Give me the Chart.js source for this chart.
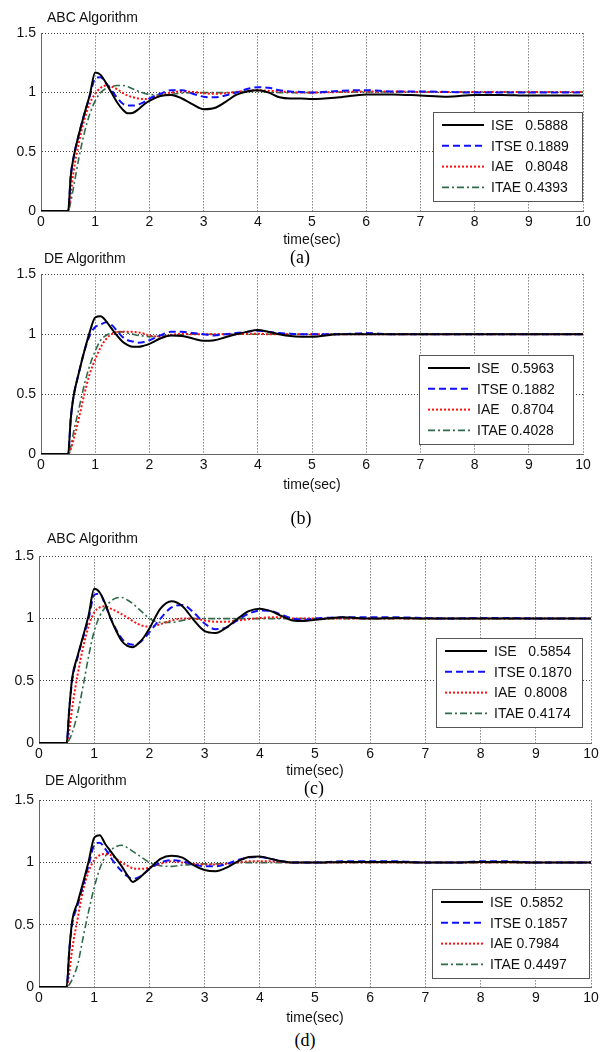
<!DOCTYPE html>
<html>
<head>
<meta charset="utf-8">
<script src="https://cdn.jsdelivr.net/npm/chart.js@4.4.1/dist/chart.umd.min.js"></script>
<style>
  body { margin: 0; background: #fff; }
  #page { position: relative; width: 606px; height: 1052px; overflow: hidden; background: #fff; }
  .panel { position: absolute; left: 0; width: 606px; }
  .ttl { position: absolute; font: 14px "Liberation Sans", Arial, sans-serif; color: #111; line-height: 14px; white-space: nowrap; }
  .cap { position: absolute; font: 18px "Liberation Serif", "Times New Roman", serif; color: #000; line-height: 18px; transform: translateX(-50%); white-space: nowrap; }
</style>
</head>
<body>
<div id="page">
  <div class="panel" id="pa"><canvas id="cva"></canvas></div>
  <div class="panel" id="pb"><canvas id="cvb"></canvas></div>
  <div class="panel" id="pc"><canvas id="cvc"></canvas></div>
  <div class="panel" id="pd"><canvas id="cvd"></canvas></div>

  <div class="ttl" style="left:47px; top:10px;">ABC Algorithm</div>
  <div class="ttl" style="left:44px; top:251px;">DE Algorithm</div>
  <div class="ttl" style="left:47px; top:531px;">ABC Algorithm</div>
  <div class="ttl" style="left:45px; top:773px;">DE Algorithm</div>

  <div class="cap" style="left:300px; top:248px;">(a)</div>
  <div class="cap" style="left:301px; top:509px;">(b)</div>
  <div class="cap" style="left:314px; top:779px;">(c)</div>
  <div class="cap" style="left:305px; top:1031px;">(d)</div>
</div>
<script>
// shared time grid (sec)
const timeSec = [0, 0.5, 0.55, 0.6, 0.7, 0.8, 0.9, 1.0, 1.1, 1.2, 1.3, 1.4, 1.5, 1.6, 1.7, 1.8, 1.9, 2.0,
  2.2, 2.4, 2.6, 2.8, 3.0, 3.2, 3.4, 3.6, 3.8, 4.0, 4.2, 4.4, 4.6, 4.8, 5.0,
  5.5, 6.0, 6.5, 7.0, 7.5, 8.0, 8.5, 9.0, 9.5, 10];

const xTicks = [0, 1, 2, 3, 4, 5, 6, 7, 8, 9, 10];
const yTicks = [0, 0.5, 1, 1.5];

// (a) ABC
const iseA = [0, 0, 0.3, 0.45, 0.65, 0.82, 0.98, 1.17, 1.15, 1.08, 1.0, 0.92, 0.86, 0.825, 0.83, 0.86, 0.9, 0.93,
  0.97, 0.98, 0.95, 0.9, 0.86, 0.87, 0.92, 0.98, 1.01, 1.02, 1.0, 0.96, 0.95, 0.95, 0.945,
  0.96, 0.985, 0.985, 0.975, 0.965, 0.98, 0.98, 0.975, 0.975, 0.975];
const itseA = [0, 0, 0.3, 0.45, 0.65, 0.82, 0.97, 1.12, 1.13, 1.08, 1.02, 0.96, 0.91, 0.89, 0.89, 0.9, 0.92, 0.95,
  0.99, 1.02, 1.02, 0.99, 0.965, 0.96, 0.975, 1.0, 1.03, 1.045, 1.04, 1.02, 1.01, 1.005, 1.0,
  1.015, 1.02, 1.01, 1.01, 1.005, 1.0, 1.0, 1.0, 1.0, 1.0];
const iaeA = [0, 0, 0.15, 0.33, 0.58, 0.77, 0.91, 0.99, 1.04, 1.06, 1.05, 1.03, 1.0, 0.975, 0.96, 0.95, 0.945, 0.95,
  0.975, 1.0, 1.01, 1.005, 0.995, 0.99, 0.995, 1.005, 1.015, 1.02, 1.015, 1.01, 1.005, 1.0, 1.0,
  1.005, 1.01, 1.01, 1.005, 1.005, 1.005, 1.005, 1.005, 1.005, 1.005];
const itaeA = [0, 0, 0.08, 0.2, 0.45, 0.66, 0.82, 0.93, 1.0, 1.035, 1.05, 1.06, 1.06, 1.05, 1.03, 1.01, 0.995, 0.985,
  0.98, 0.985, 0.995, 1.0, 1.0, 1.0, 1.0, 1.005, 1.01, 1.01, 1.005, 1.0, 1.0, 1.0, 1.0,
  1.005, 1.005, 1.005, 1.005, 1.005, 1.005, 1.005, 1.005, 1.005, 1.005];
const legendA = ['ISE   0.5888', 'ITSE 0.1889', 'IAE   0.8048', 'ITAE 0.4393'];

// (b) DE
const iseB = [0, 0, 0.3, 0.48, 0.68, 0.86, 1.02, 1.14, 1.15, 1.11, 1.05, 0.99, 0.94, 0.91, 0.895, 0.895, 0.905, 0.92,
  0.965, 0.99, 0.985, 0.965, 0.945, 0.95, 0.975, 1.0, 1.02, 1.035, 1.02, 1.0, 0.985, 0.98, 0.98,
  1.0, 1.0, 1.0, 1.0, 1.0, 1.0, 1.0, 1.0, 1.0, 1.0];
const itseB = [0, 0, 0.3, 0.48, 0.68, 0.86, 0.99, 1.06, 1.08, 1.1, 1.08, 1.03, 0.98, 0.95, 0.94, 0.93, 0.935, 0.95,
  0.99, 1.02, 1.02, 1.01, 1.0, 0.99, 1.0, 1.01, 1.02, 1.03, 1.02, 1.01, 1.005, 1.0, 1.0,
  1.0, 1.01, 1.0, 1.0, 1.0, 1.0, 1.0, 1.0, 1.0, 1.0];
const iaeB = [0, 0, 0.04, 0.12, 0.3, 0.5, 0.67, 0.79, 0.89, 0.96, 1.0, 1.02, 1.02, 1.02, 1.02, 1.015, 1.005, 0.99,
  0.98, 0.995, 1.005, 1.0, 1.0, 1.0, 1.0, 1.0, 1.005, 1.005, 1.0, 1.0, 1.0, 1.0, 1.0,
  1.0, 1.0, 1.0, 1.0, 1.0, 1.0, 1.0, 1.0, 1.0, 1.0];
const itaeB = [0, 0, 0.06, 0.18, 0.38, 0.58, 0.74, 0.86, 0.95, 0.99, 1.01, 1.02, 1.02, 1.01, 1.0, 0.99, 0.985, 0.98,
  0.985, 0.99, 0.995, 1.0, 1.0, 1.0, 1.0, 1.0, 1.0, 1.0, 1.0, 1.0, 1.0, 1.0, 1.0,
  1.0, 1.0, 1.0, 1.0, 1.0, 1.0, 1.0, 1.0, 1.0, 1.0];
const legendB = ['ISE   0.5963', 'ITSE 0.1882', 'IAE   0.8704', 'ITAE 0.4028'];

// (c) ABC
const iseC = [0, 0, 0.28, 0.52, 0.7, 0.86, 1.03, 1.24, 1.21, 1.12, 1.0, 0.9, 0.82, 0.78, 0.77, 0.8, 0.85, 0.92,
  1.08, 1.14, 1.1, 0.99, 0.9, 0.885, 0.93, 1.0, 1.06, 1.08, 1.06, 1.02, 0.985, 0.98, 0.99,
  1.01, 1.0, 1.005, 1.0, 1.0, 1.0, 1.0, 1.0, 1.0, 1.0];
const itseC = [0, 0, 0.28, 0.5, 0.69, 0.85, 1.0, 1.19, 1.2, 1.11, 1.0, 0.91, 0.84, 0.8, 0.79, 0.8, 0.84, 0.89,
  1.0, 1.09, 1.11, 1.05, 0.96, 0.915, 0.93, 0.99, 1.04, 1.065, 1.06, 1.03, 1.0, 0.99, 1.0,
  1.01, 1.01, 1.01, 1.005, 1.0, 1.005, 1.005, 1.0, 1.0, 1.0];
const iaeC = [0, 0, 0.1, 0.28, 0.55, 0.77, 0.94, 1.05, 1.09, 1.1, 1.08, 1.06, 1.035, 1.01, 0.98, 0.955, 0.94, 0.935,
  0.955, 0.985, 1.0, 1.0, 0.985, 0.975, 0.975, 0.985, 0.995, 1.005, 1.01, 1.01, 1.0, 1.0, 1.0,
  1.0, 1.0, 1.0, 1.0, 1.0, 1.0, 1.0, 1.0, 1.0, 1.0];
const itaeC = [0, 0, 0.03, 0.08, 0.24, 0.46, 0.7, 0.9, 1.02, 1.09, 1.14, 1.165, 1.17, 1.15, 1.12, 1.08, 1.04, 1.0,
  0.97, 0.97, 0.985, 1.0, 1.0, 1.0, 1.0, 1.0, 1.0, 1.0, 1.0, 1.0, 1.0, 1.0, 1.0,
  1.0, 1.0, 1.0, 1.0, 1.0, 1.0, 1.0, 1.0, 1.0, 1.0];
const legendC = ['ISE   0.5854', 'ITSE 0.1870', 'IAE  0.8008', 'ITAE 0.4174'];

// (d) DE
const iseD = [0, 0, 0.3, 0.53, 0.68, 0.84, 1.01, 1.2, 1.22, 1.15, 1.09, 1.03, 0.97, 0.9, 0.845, 0.87, 0.91, 0.95,
  1.03, 1.055, 1.04, 0.98, 0.94, 0.93, 0.96, 1.01, 1.045, 1.05, 1.03, 1.01, 1.0, 1.0, 1.0,
  1.005, 1.005, 1.005, 1.0, 1.0, 1.005, 1.005, 1.0, 1.0, 1.0];
const itseD = [0, 0, 0.3, 0.5, 0.66, 0.82, 0.98, 1.14, 1.16, 1.11, 1.04, 0.98, 0.93, 0.89, 0.87, 0.88, 0.91, 0.95,
  1.0, 1.02, 1.01, 0.985, 0.97, 0.97, 0.99, 1.02, 1.04, 1.045, 1.03, 1.01, 1.0, 1.0, 1.0,
  1.01, 1.01, 1.01, 1.0, 1.0, 1.01, 1.01, 1.0, 1.0, 1.0];
const iaeD = [0, 0, 0.12, 0.3, 0.55, 0.78, 0.93, 1.02, 1.06, 1.07, 1.06, 1.03, 1.0, 0.975, 0.955, 0.95, 0.95, 0.96,
  0.99, 1.01, 1.0, 0.99, 0.985, 0.985, 0.99, 1.0, 1.01, 1.01, 1.01, 1.005, 1.0, 1.0, 1.0,
  1.0, 1.0, 1.0, 1.0, 1.0, 1.0, 1.0, 1.0, 1.0, 1.0];
const itaeD = [0, 0, 0.02, 0.06, 0.18, 0.4, 0.61, 0.8, 0.95, 1.05, 1.1, 1.13, 1.14, 1.12, 1.09, 1.06, 1.03, 1.0,
  0.975, 0.97, 0.98, 0.985, 0.99, 0.99, 0.995, 1.0, 1.0, 1.0, 1.0, 1.0, 1.0, 1.0, 1.0,
  1.0, 1.0, 1.0, 1.0, 1.0, 1.0, 1.0, 1.0, 1.0, 1.0];
const legendD = ['ISE  0.5852', 'ITSE 0.1857', 'IAE 0.7984', 'ITAE 0.4497'];

// line styles, same order as the legend rows
const styles = [
  { color: '#000000', width: 2, dash: [] },
  { color: '#1010ff', width: 2, dash: [7, 4] },
  { color: '#ff1010', width: 2, dash: [2, 2] },
  { color: '#2f6b4b', width: 1.6, dash: [7, 3, 2, 3] },
];

const font = { family: '"Liberation Sans", Arial, sans-serif', size: 14 };

// legend box drawn inside the plot area, like MATLAB's 'Location','SouthEast'
const boxLegend = {
  id: 'boxLegend',
  afterDatasetsDraw(chart, args, opts) {
    const { ctx, chartArea } = chart;
    const w = opts.width, h = 89;
    const x = Math.round(chartArea.right - opts.right - w);
    const y = Math.round(chartArea.bottom - opts.bottom - h);
    ctx.save();
    ctx.fillStyle = '#fff';
    ctx.fillRect(x, y, w, h);
    ctx.strokeStyle = '#555';
    ctx.lineWidth = 1;
    ctx.strokeRect(x + 0.5, y + 0.5, w, h);
    ctx.font = '14px "Liberation Sans", Arial, sans-serif';
    ctx.textBaseline = 'middle';
    chart.data.datasets.forEach((ds, i) => {
      const ry = y + 13 + i * 20.8;
      ctx.beginPath();
      ctx.setLineDash(ds.borderDash || []);
      ctx.strokeStyle = ds.borderColor;
      ctx.lineWidth = ds.borderWidth;
      ctx.moveTo(x + 9, ry);
      ctx.lineTo(x + 51, ry);
      ctx.stroke();
      ctx.setLineDash([]);
      ctx.fillStyle = '#111';
      ctx.fillText(ds.label, x + 58, ry + 1);
    });
    ctx.restore();
  }
};

function makePanel(p, series, labels) {
  const wrap = document.getElementById('p' + p.id);
  const cv = document.getElementById('cv' + p.id);
  const xh = p.timeY - p.B + 8;
  const h = 12 + (p.B - p.T) + xh;
  wrap.style.top = (p.T - 12) + 'px';
  wrap.style.height = h + 'px';
  cv.width = 606; cv.height = h;
  cv.style.width = '606px'; cv.style.height = h + 'px';

  const datasets = series.map((vals, i) => ({
    label: labels[i],
    data: timeSec.map((t, k) => ({ x: t, y: vals[k] })),
    borderColor: styles[i].color,
    borderWidth: styles[i].width,
    borderDash: styles[i].dash,
    pointRadius: 0,
    fill: false,
    cubicInterpolationMode: 'monotone',
  }));

  return new Chart(cv, {
    type: 'line',
    data: { datasets },
    plugins: [boxLegend],
    options: {
      responsive: false,
      animation: false,
      events: [],
      layout: { padding: { top: 12, left: 0, right: 606 - p.R, bottom: 0 } },
      plugins: {
        legend: { display: false },
        tooltip: { enabled: false },
        boxLegend: p.legend,
      },
      scales: {
        x: {
          type: 'linear', min: 0, max: 10,
          afterFit: s => { s.height = xh; },
          afterBuildTicks: s => { s.ticks = xTicks.map(v => ({ value: v })); },
          ticks: { padding: 3, color: '#111', font, maxRotation: 0, autoSkip: false, callback: v => String(v) },
          grid: { color: '#444', lineWidth: 1, drawTicks: false },
          border: { color: '#666', width: 1, dash: [1, 2] },
          title: { display: true, text: 'time(sec)', color: '#111', font, padding: 0 },
        },
        y: {
          min: 0, max: 1.5,
          afterFit: s => { s.width = p.L; },
          afterBuildTicks: s => { s.ticks = yTicks.map(v => ({ value: v })); },
          ticks: { padding: 5, color: '#111', font, callback: v => String(v) },
          grid: { color: '#444', lineWidth: 1, drawTicks: false },
          border: { color: '#666', width: 1, dash: [1, 2] },
        }
      }
    }
  });
}

makePanel({ id: 'a', L: 41, R: 583, T: 32, B: 211, timeY: 241, legend: { width: 149, right: 1, bottom: 10 } },
  [iseA, itseA, iaeA, itaeA], legendA);
makePanel({ id: 'b', L: 41, R: 583, T: 273, B: 454, timeY: 486, legend: { width: 154, right: 10, bottom: 10 } },
  [iseB, itseB, iaeB, itaeB], legendB);
makePanel({ id: 'c', L: 39, R: 591, T: 555, B: 743, timeY: 772, legend: { width: 146, right: 9, bottom: 16 } },
  [iseC, itseC, iaeC, itaeC], legendC);
makePanel({ id: 'd', L: 39, R: 591, T: 799, B: 987, timeY: 1019, legend: { width: 157, right: 2, bottom: 9 } },
  [iseD, itseD, iaeD, itaeD], legendD);
</script>
</body>
</html>
